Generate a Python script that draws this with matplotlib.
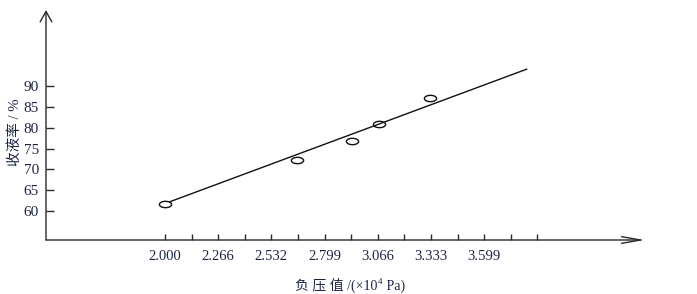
import matplotlib
matplotlib.use("Agg")
import matplotlib.pyplot as plt
from matplotlib.path import Path
from matplotlib.transforms import Affine2D

plt.rcParams['font.family'] = ['Liberation Serif', 'Noto Sans CJK SC', 'DejaVu Sans']

# data
pressure = [2.000, 2.663, 2.935, 3.071, 3.329]
yield_rate = [61.7, 72.3, 76.8, 80.9, 87.2]
fit_x = [2.025, 3.812]
fit_y = [62.2, 94.1]
xtick_vals = [2.000 + k * 0.13325 for k in range(15)]
xtick_labels = ["2.000", "", "2.266", "", "2.532", "", "2.799", "",
                "3.066", "", "3.333", "", "3.599", "", ""]
ytick_vals = [60, 65, 70, 75, 80, 85, 90]
ytick_labels = ["60", "65", "70", "75", "80", "85", "90"]

TXT = '#1c2444'
AX = '#2a2a2a'

fig = plt.figure(figsize=(6.97, 2.94), dpi=100)
ax = fig.add_axes([46/697, 1 - 240/294, (645-46)/697, (240-10)/294])
ax.set_xlim(1.404, 4.405)
ax.set_ylim(52.98, 108.35)

ax.plot(fit_x, fit_y, color='#111111', lw=1.0, zorder=2)
ell = Path.unit_circle().transformed(Affine2D().scale(1, 0.52))
ax.plot(pressure, yield_rate, linestyle='none', marker=ell, markersize=8.8,
        markerfacecolor='none', markeredgecolor='#111111', markeredgewidth=1.0, zorder=3)

for s in ax.spines.values():
    s.set_visible(False)

ax.annotate('', xy=(1, 0), xytext=(0, 0), xycoords='axes fraction',
            arrowprops=dict(arrowstyle='->,head_length=1.4,head_width=0.24',
                            color=AX, lw=1.0, shrinkA=0, shrinkB=0))
ax.annotate('', xy=(0, 1), xytext=(0, 0), xycoords='axes fraction',
            arrowprops=dict(arrowstyle='->,head_length=0.75,head_width=0.42',
                            color=AX, lw=1.0, shrinkA=0, shrinkB=0))

ax.set_xticks(xtick_vals)
ax.set_xticklabels(xtick_labels)
ax.set_yticks(ytick_vals)
ax.set_yticklabels(ytick_labels)
ax.tick_params(axis='x', direction='in', length=4, width=1.0, color=AX,
               pad=7, labelsize=10.5, labelcolor=TXT)
ax.tick_params(axis='y', direction='in', length=6, width=1.0, color=AX,
               pad=5, labelsize=11, labelcolor=TXT)

# x label built from pieces so the exponent is a true superscript
t1 = fig.text(295/697, 4/294, '负 压 值 /(×10', fontsize=10, color=TXT,
              ha='left', va='baseline')
t2 = ax.annotate('4', xy=(1, 0), xycoords=t1, xytext=(0.5, 5), textcoords='offset points',
                 fontsize=6.5, color=TXT, ha='left', va='bottom', annotation_clip=False)
t3 = ax.annotate(' Pa)', xy=(1, 0), xycoords=(t2, t1), fontsize=10, color=TXT,
                 ha='left', va='bottom', annotation_clip=False)

ax.set_ylabel('收液率 / %', fontsize=10.5, color=TXT)
ax.yaxis.set_label_coords(-0.040, 0.47)

fig.savefig('out.png', dpi=100)
